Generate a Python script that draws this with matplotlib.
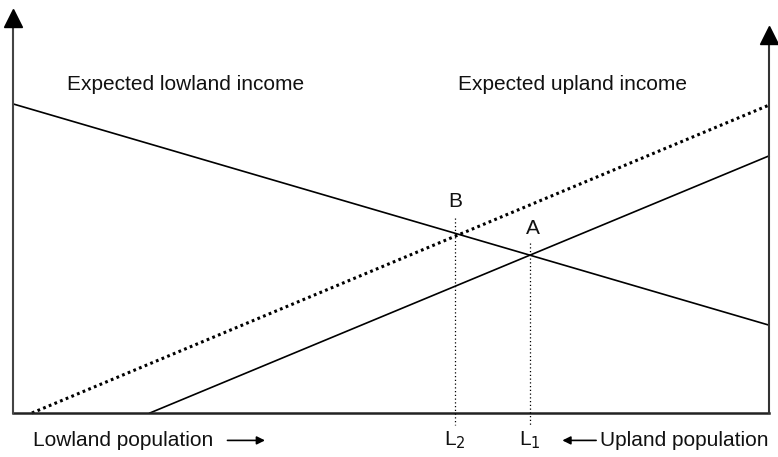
import numpy as np
import matplotlib.pyplot as plt

plt.rcParams['font.family'] = ['Liberation Sans', 'DejaVu Sans']

# population share (0..100 from left), income (0..100 up to top of left axis)
lowland_x = [0, 100]
lowland_y = [76.7, 21.8]
upland_new_x = [2.5, 100]     # shifted upland income (dotted)
upland_new_y = [0, 76.4]
upland_x = [18.1, 100]
upland_y = [0, 63.8]
L2, L1 = 58.5, 68.4
B_y, A_y = 44.8, 39.2
right_top = 95.8

W, H = 778, 457
fig = plt.figure(figsize=(W/100, H/100), dpi=100)
ax = fig.add_axes([13/W, (H-413)/H, 756/W, 403/H])
ax.set_xlim(0, 100)
ax.set_ylim(0, 100)
ax.axis('off')

k = 'black'
ax.plot(lowland_x, lowland_y, color=k, lw=1.2, clip_on=False)
ax.plot(upland_x, upland_y, color=k, lw=1.2, clip_on=False)
ax.plot(upland_new_x, upland_new_y, color=k, lw=2.2, ls=(0, (0.9, 1.1)), clip_on=False)

# axes with arrows
ax.plot([0, 100], [0, 0], color='#222222', lw=1.8, clip_on=False, solid_capstyle='projecting')
ax.plot([0, 0], [0, 96], color='#444444', lw=1.5, clip_on=False)
ax.plot([100, 100], [0, right_top - 3], color='#333333', lw=1.5, clip_on=False)
ax.plot(0, 100 - 2, marker='^', ms=13, color=k, clip_on=False)
ax.plot(100, right_top - 2, marker='^', ms=13, color=k, clip_on=False)

# equilibrium drop lines
ax.plot([L2, L2], [B_y + 3.5, -3], color=k, lw=0.9, ls=(0, (1, 2)), clip_on=False)
ax.plot([L1, L1], [A_y + 3, -3], color=k, lw=0.9, ls=(0, (1, 2)), clip_on=False)

fs = 15
tc = '#111111'
ax.text(7.2, 81.5, 'Expected lowland income', fontsize=fs, color=tc, va='center')
ax.text(58.8, 81.5, 'Expected upland income', fontsize=fs, color=tc, va='center')
ax.text(L2, 52.5, 'B', fontsize=fs, color=tc, ha='center', va='center')
ax.text(L1 + 0.4, 45.7, 'A', fontsize=fs, color=tc, ha='center', va='center')

ax.text(2.6, -6.8, 'Lowland population', fontsize=fs, color=tc, va='center')
ax.annotate('', xy=(33.7, -6.8), xytext=(28, -6.8),
            arrowprops=dict(arrowstyle='-|>', color=k, lw=1.2, mutation_scale=12),
            annotation_clip=False)
ax.text(L2, -6.8, 'L$_2$', fontsize=fs, color=tc, ha='center', va='center')
ax.text(L1, -6.8, 'L$_1$', fontsize=fs, color=tc, ha='center', va='center')
ax.annotate('', xy=(72.3, -6.8), xytext=(77.5, -6.8),
            arrowprops=dict(arrowstyle='-|>', color=k, lw=1.2, mutation_scale=12),
            annotation_clip=False)
ax.text(100, -6.8, 'Upland population', fontsize=fs, color=tc, ha='right', va='center')

fig.savefig('out.png', dpi=100)
